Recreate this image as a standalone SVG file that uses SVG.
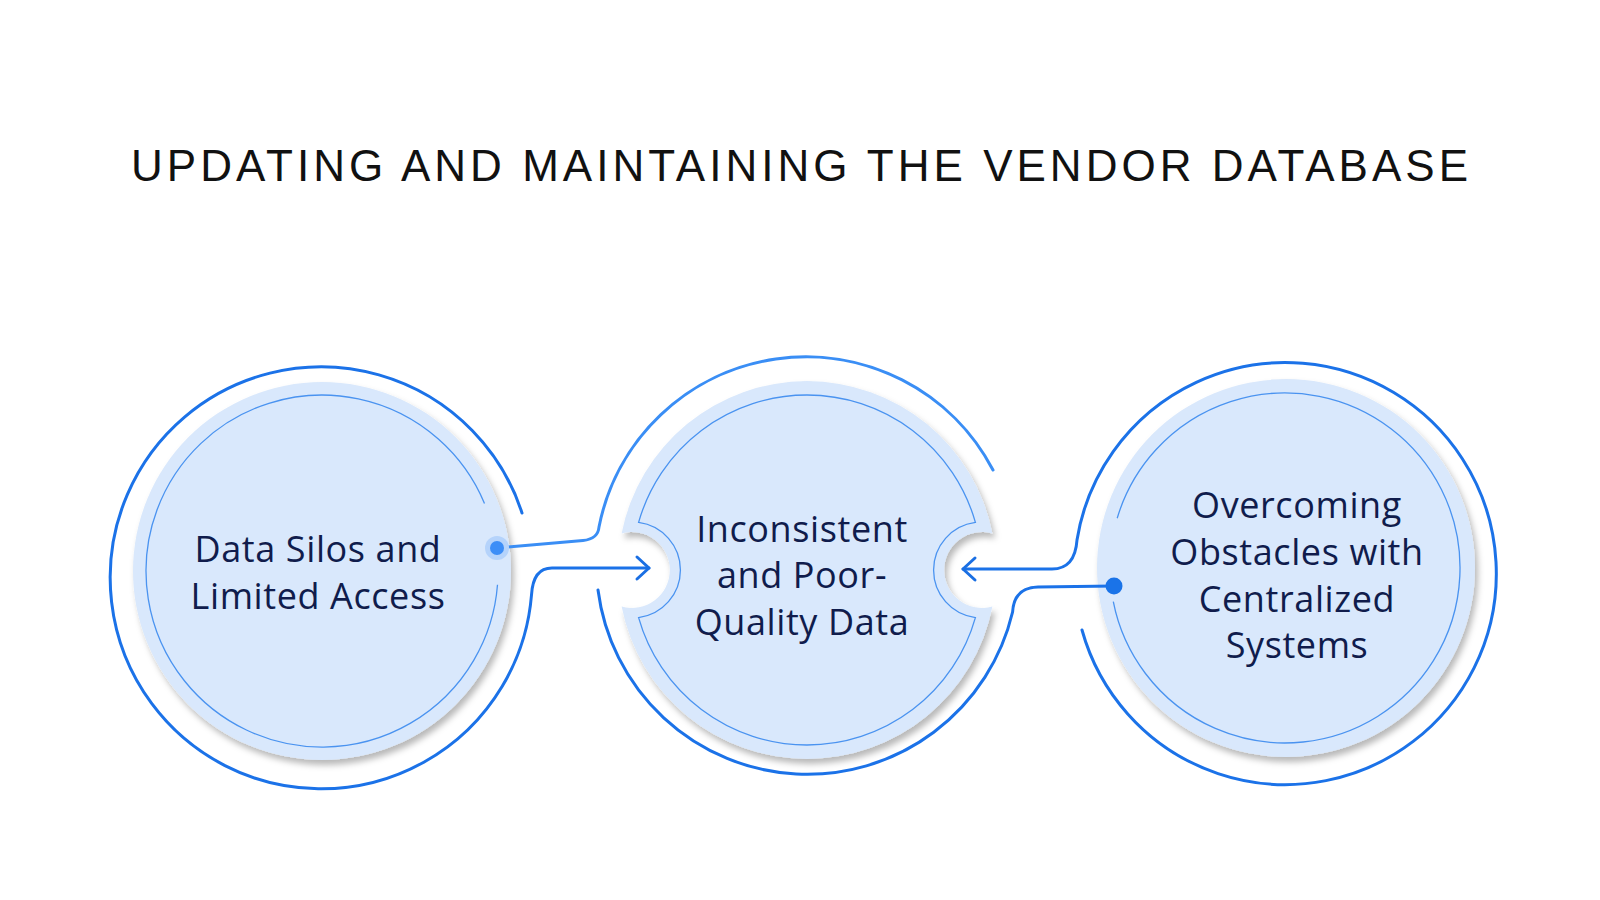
<svg xmlns="http://www.w3.org/2000/svg" width="1600" height="900" viewBox="0 0 1600 900">
  <defs>
    <filter id="shadow" x="-10%" y="-10%" width="125%" height="125%">
      <feDropShadow dx="3" dy="5" stdDeviation="3" flood-color="#000" flood-opacity="0.28"/>
    </filter>
    <marker id="chev" viewBox="0 0 20 30" refX="16" refY="15" markerWidth="20" markerHeight="30" markerUnits="userSpaceOnUse" orient="auto">
      <path d="M4,4 L16,15 L4,26" fill="none" stroke="#1a6fe3" stroke-width="3" stroke-linecap="round" stroke-linejoin="round"/>
    </marker>
  </defs>
  <style>
    .disk { fill: #d9e8fc; filter: url(#shadow); }
    .inner { fill: none; stroke: #4a93f0; stroke-width: 1.3; }
    .ring { fill: none; stroke: #1b72e8; stroke-width: 3; stroke-linecap: round; }
    .ringlight { fill: none; stroke: #3a8ef5; stroke-width: 3; stroke-linecap: round; }
    .label { font-family: "Open Sans", "Noto Sans", sans-serif; font-size: 36px; fill: #101c4c; text-anchor: middle; letter-spacing: 0.6px; }
    .title { font-family: "Liberation Sans", Arial, sans-serif; font-size: 44px; fill: #111111; }
  </style>
  <rect width="1600" height="900" fill="#ffffff"/>

  <text class="title" x="131" y="181" textLength="1337" lengthAdjust="spacing">UPDATING AND MAINTAINING THE VENDOR DATABASE</text>

  <g id="node-1">
    <circle class="disk" cx="322" cy="571" r="189"/>
    <path class="inner" d="M497.5,584.8 A176 176 0 1 1 484.5,503.4"/>
    <text class="label" x="318" y="562">Data Silos and</text>
    <text class="label" x="318" y="609">Limited Access</text>
  </g>

  <g id="node-2">
    <path class="disk" d="M621.6,533.4 A189 189 0 0 1 992.4,533.4 A38 38 0 1 0 992.4,606.6 A189 189 0 0 1 621.6,606.6 A38 38 0 1 0 621.6,533.4 Z"/>
    <path class="inner" d="M638.6,522.4 A175 175 0 0 1 975.4,522.4 A48 48 0 0 0 975.4,617.6 A175 175 0 0 1 638.6,617.6 A48 48 0 0 0 638.6,522.4 Z"/>
    <text class="label" x="802" y="542">Inconsistent</text>
    <text class="label" x="802" y="588">and Poor-</text>
    <text class="label" x="802" y="635">Quality Data</text>
  </g>

  <g id="node-3">
    <circle class="disk" cx="1286" cy="568" r="189"/>
    <path class="inner" d="M1113.3,601.7 A175 175 0 1 0 1117.2,518.3"/>
    <text class="label" x="1297" y="518">Overcoming</text>
    <text class="label" x="1297" y="565">Obstacles with</text>
    <text class="label" x="1297" y="612">Centralized</text>
    <text class="label" x="1297" y="658">Systems</text>
  </g>

  <g id="connectors">
    <path class="ringlight" d="M497,548 L583,540.5 Q598,539 599,527 A211 211 0 0 1 993,470"/>
    <path class="ring" d="M522,513 A211 211 0 1 0 531.5,595 Q533,568 552,568 L649,568" marker-end="url(#chev)"/>
    <path class="ring" d="M1082,630 A211 211 0 1 0 1077,540 Q1075,569 1052,569 L963,569" marker-end="url(#chev)"/>
    <path class="ring" d="M1114,586 L1038,587 Q1014,587.5 1012.6,612 A211 211 0 0 1 598,590"/>
    <circle cx="497" cy="548" r="12" fill="#b5d3fb"/>
    <circle cx="497" cy="548" r="7" fill="#3d8ef7"/>
    <circle cx="1114" cy="586" r="8.5" fill="#1a73e8"/>
  </g>
</svg>
